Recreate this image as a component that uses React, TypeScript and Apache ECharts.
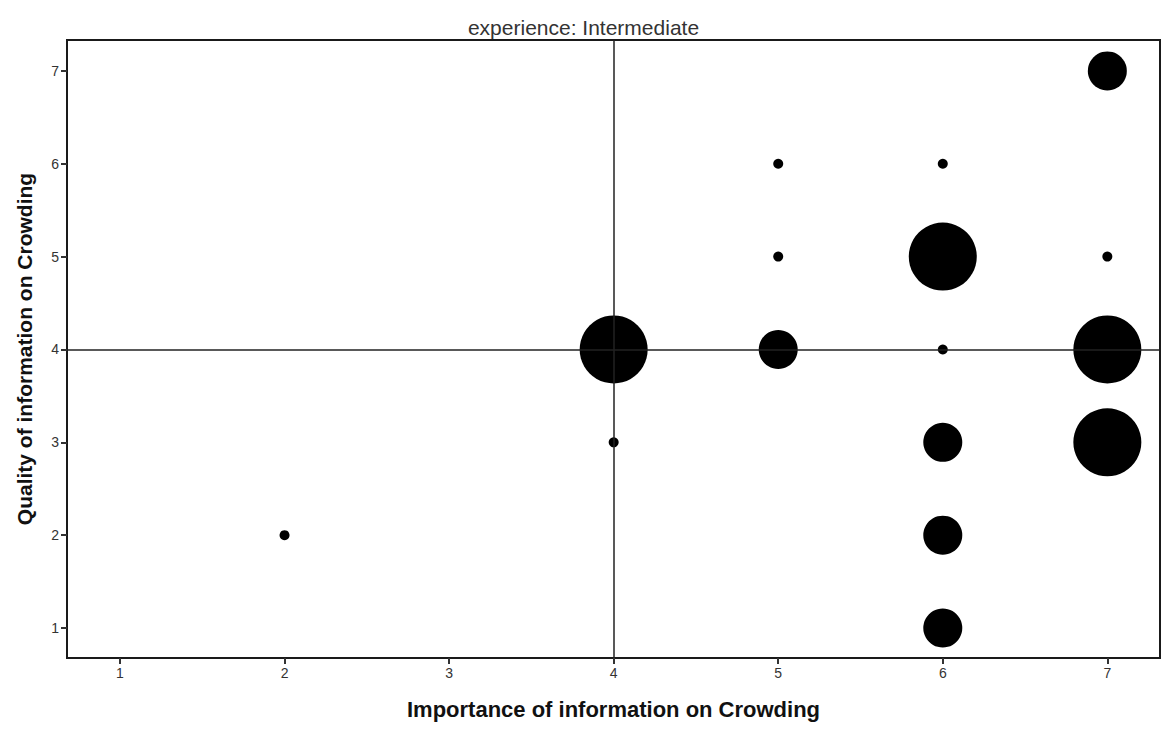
import React, { useEffect, useRef } from "react";
import * as echarts from "echarts";

// Importance (x), quality (y) and number of respondents at each combination
const importance = [2, 4, 4, 5, 5, 5, 6, 6, 6, 6, 6, 6, 7, 7, 7, 7];
const quality = [2, 3, 4, 6, 5, 4, 6, 5, 4, 3, 2, 1, 7, 5, 4, 3];
const counts = [1, 1, 3, 1, 1, 2, 1, 3, 1, 2, 2, 2, 2, 1, 3, 3];
const tickValues = [1, 2, 3, 4, 5, 6, 7];
const chartTitle = "experience: Intermediate";
const xTitle = "Importance of information on Crowding";
const yTitle = "Quality of information on Crowding";

const FONT = "'Liberation Sans', Arial, sans-serif";

export default function App() {
  const ref = useRef<HTMLDivElement>(null);

  useEffect(() => {
    if (!ref.current) return;
    const chart = echarts.init(ref.current, undefined, { renderer: "svg" });
    const points = importance.map((x, i) => [x, quality[i], counts[i]]);

    const axisCommon = {
      type: "value",
      splitLine: { show: false },
      axisLine: { show: true, onZero: false, lineStyle: { color: "#1a1a1a", width: 2 } },
      axisTick: {
        show: true,
        inside: false,
        length: 6,
        customValues: tickValues,
        lineStyle: { color: "#333", width: 2 },
      },
      axisLabel: {
        customValues: tickValues,
        color: "#333",
        fontFamily: FONT,
        fontSize: 14,
        margin: 8,
      },
      nameLocation: "middle",
    };

    chart.setOption({
      animation: false,
      backgroundColor: "#ffffff",
      title: {
        text: chartTitle,
        left: "center",
        top: 12,
        textStyle: { fontFamily: FONT, fontWeight: "normal", fontSize: 21, color: "#333" },
      },
      grid: {
        left: 67,
        top: 40,
        right: 7,
        bottom: 72,
        show: true,
        borderColor: "#1a1a1a",
        borderWidth: 2,
        backgroundColor: "#fff",
      },
      xAxis: {
        ...axisCommon,
        min: 0.678,
        max: 7.32,
        name: xTitle,
        nameGap: 40,
        nameTextStyle: { fontFamily: FONT, fontWeight: "bold", fontSize: 22, color: "#111" },
      },
      yAxis: {
        ...axisCommon,
        min: 0.677,
        max: 7.333,
        name: yTitle,
        nameGap: 32,
        nameTextStyle: { fontFamily: FONT, fontWeight: "bold", fontSize: 21, color: "#111" },
      },
      series: [
        {
          type: "scatter",
          data: points,
          symbol: "circle",
          symbolSize: (v: number[]) => 10 + (v[2] - 1) * 29,
          itemStyle: { color: "#000", opacity: 1 },
          markLine: {
            silent: true,
            symbol: "none",
            label: { show: false },
            lineStyle: { color: "#222", width: 1.5, type: "solid" },
            data: [{ xAxis: 4 }, { yAxis: 4 }],
          },
          z: 3,
        },
      ],
    });
    return () => chart.dispose();
  }, []);

  return (
    <div
      ref={ref}
      style={{ position: "fixed", left: 0, top: 0, width: 1167, height: 730 }}
    />
  );
}
